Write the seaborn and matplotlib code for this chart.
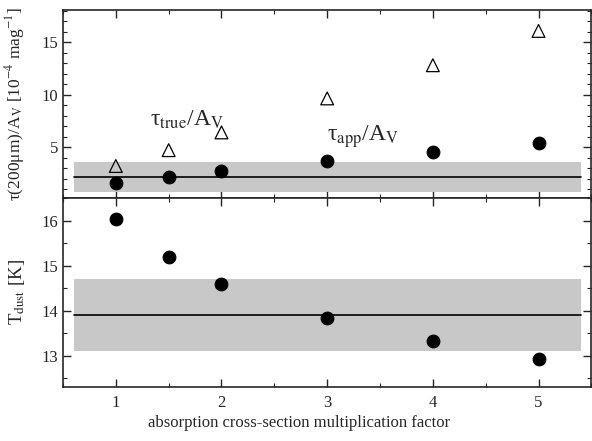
import matplotlib
matplotlib.use('Agg')
import matplotlib.pyplot as plt
import seaborn as sns
import pandas as pd
from matplotlib.ticker import MultipleLocator

# fator de multiplicação da seção de choque de absorção
fator = [1, 1.5, 2, 3, 4, 5]
tau_app = [1.54, 2.17, 2.71, 3.70, 4.55, 5.35]
tau_true = [3.2, 4.71, 6.4, 9.64, 12.8, 16.07]
t_dust = [16.04, 15.18, 14.59, 13.83, 13.32, 12.93]

# valores observados (linha) e faixa de incerteza
tau_obs, tau_lo, tau_hi = 2.17, 0.71, 3.57
t_obs, t_lo, t_hi = 13.9, 13.11, 14.70
faixa_x = [0.6, 5.4]

df = pd.DataFrame({'fator': fator, 'app': tau_app, 'true': tau_true, 'T': t_dust})

sns.set_style('ticks')
plt.rcParams['font.family'] = ['Liberation Serif', 'DejaVu Serif']
plt.rcParams['mathtext.fontset'] = 'stix'

fig = plt.figure(figsize=(5.92, 4.41), dpi=100)
ax1 = fig.add_axes([0.1064, 0.551, 0.8925, 0.426])
ax2 = fig.add_axes([0.1064, 0.1224, 0.8925, 0.4286], sharex=ax1)

# painel de cima
ax1.fill_between(faixa_x, tau_lo, tau_hi, color='#c8c8c8', lw=0, zorder=1)
ax1.plot(faixa_x, [tau_obs, tau_obs], color='k', lw=1.2, zorder=2)
sns.scatterplot(data=df, x='fator', y='true', ax=ax1, marker='^', s=85,
                facecolor='none', edgecolor='k', linewidth=0.9, zorder=3)
sns.scatterplot(data=df, x='fator', y='app', ax=ax1, marker='o', s=85,
                color='k', edgecolor='k', zorder=3)
ax1.text(1.32, 7.0, r'τ$_\mathrm{true}$/A$_\mathrm{V}$', fontsize=17, va='baseline')
ax1.text(3.0, 5.6, r'τ$_\mathrm{app}$/A$_\mathrm{V}$', fontsize=17, va='baseline')
ax1.set_ylim(0.15, 18.05)
ax1.yaxis.set_major_locator(MultipleLocator(5))
ax1.yaxis.set_minor_locator(MultipleLocator(1))
ax1.set_ylabel(r'τ(200μm)/A$_\mathrm{V}$ [10$^{-4}$ mag$^{-1}$]', fontsize=12.5)
ax1.set_xlabel('')
ax1.tick_params(labelbottom=False)

# painel de baixo
ax2.fill_between(faixa_x, t_lo, t_hi, color='#c8c8c8', lw=0, zorder=1)
ax2.plot(faixa_x, [t_obs, t_obs], color='k', lw=1.2, zorder=2)
sns.scatterplot(data=df, x='fator', y='T', ax=ax2, marker='o', s=85,
                color='k', edgecolor='k', zorder=3)
ax2.set_ylim(12.3, 16.5)
ax2.yaxis.set_major_locator(MultipleLocator(1))
ax2.yaxis.set_minor_locator(MultipleLocator(0.5))
ax2.set_ylabel(r'T$_\mathrm{dust}$ [K]', fontsize=13.5)
ax2.set_xlabel('absorption cross-section multiplication factor', fontsize=12)
ax2.xaxis.set_label_coords(0.446, -0.15)

ax2.set_xlim(0.5, 5.5)
ax2.xaxis.set_major_locator(MultipleLocator(1))
ax2.xaxis.set_minor_locator(MultipleLocator(0.5))

for ax in (ax1, ax2):
    for s in ax.spines.values():
        s.set_visible(True)
        s.set_linewidth(1.2)
    ax.tick_params(which='both', direction='in', top=True, right=True, labelsize=12)
    ax.tick_params(which='major', length=6, width=1)
    ax.tick_params(which='minor', length=3, width=0.8)
    ax.yaxis.set_label_coords(-0.068, 0.5)
ax2.tick_params(axis='x', pad=6)

fig.savefig('out.png', dpi=100)
